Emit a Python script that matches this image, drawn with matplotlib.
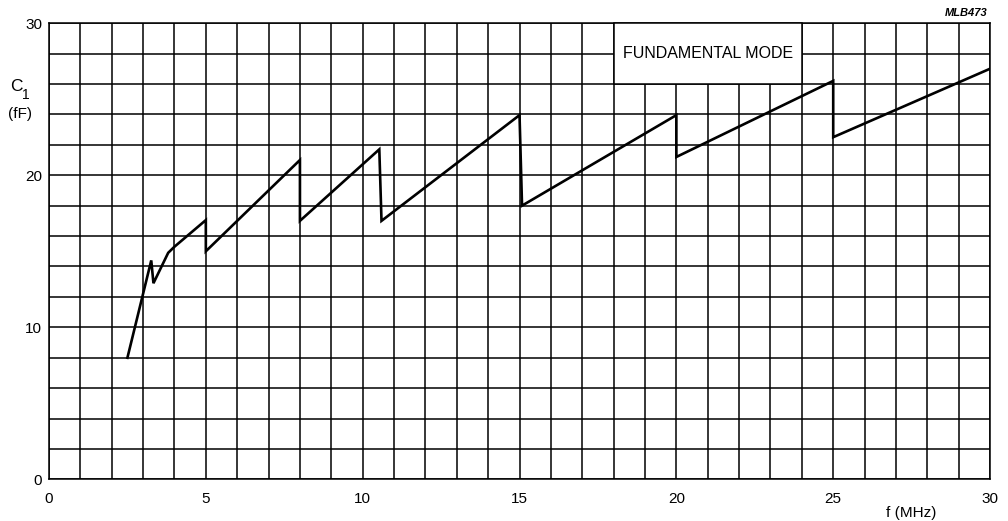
import numpy as np
import matplotlib.pyplot as plt
from matplotlib.patches import Rectangle

# motional capacitance vs. frequency, fundamental mode crystals
freq = [2.5, 3.26, 3.33, 3.8, 4.0, 5.0, 5.0, 8.0, 8.0, 10.53, 10.6,
        15.0, 15.08, 20.0, 20.0, 25.0, 25.0, 30.0]
c1 = [8.0, 14.4, 12.9, 14.9, 15.3, 17.05, 15.0, 21.0, 17.0, 21.7, 17.0,
      23.95, 18.0, 23.95, 21.2, 26.2, 22.5, 27.0]

x_ticks = [0, 5, 10, 15, 20, 25, 30]
y_ticks = [0, 10, 20, 30]

plt.rcParams['font.family'] = ['Liberation Sans', 'DejaVu Sans']

fig = plt.figure(figsize=(10.08, 5.21), dpi=100)
ax = fig.add_axes([0.0486, 0.0797, 0.9336, 0.876])

ax.set_xlim(0, 30)
ax.set_ylim(0, 30)
ax.set_xticks(x_ticks)
ax.set_yticks(y_ticks)
ax.set_xticks(np.arange(0, 31, 1), minor=True)
ax.set_yticks(np.arange(0, 31, 2), minor=True)
ax.grid(which='both', color='black', linewidth=1.1)
ax.tick_params(which='both', length=0, labelsize=11)
ax.tick_params(axis='x', pad=9)
ax.tick_params(axis='y', pad=5)
for s in ax.spines.values():
    s.set_linewidth(1.1)

ax.plot(freq, c1, color='black', linewidth=1.9, solid_joinstyle='miter', zorder=3)

# label box in the upper right
ax.add_patch(Rectangle((18, 26), 6, 4, facecolor='white', edgecolor='black',
                       linewidth=1.1, zorder=4, clip_on=False))
ax.text(21, 28, 'FUNDAMENTAL MODE', ha='center', va='center', fontsize=11.5, zorder=5)

# axis titles
ax.text(-1.05, 25.8, 'C', ha='center', va='center', fontsize=12.5, clip_on=False)
ax.text(-0.75, 25.3, '1', ha='center', va='center', fontsize=10, clip_on=False)
ax.text(-0.93, 24.0, '(fF)', ha='center', va='center', fontsize=11, clip_on=False)
ax.text(27.5, -2.2, 'f (MHz)', ha='center', va='center', fontsize=11, clip_on=False)

fig.text(988 / 1008, 1 - 12.5 / 521, 'MLB473', ha='right', va='center',
         fontsize=8, style='italic', weight='bold')

fig.savefig('out.png', dpi=100, facecolor='white')
